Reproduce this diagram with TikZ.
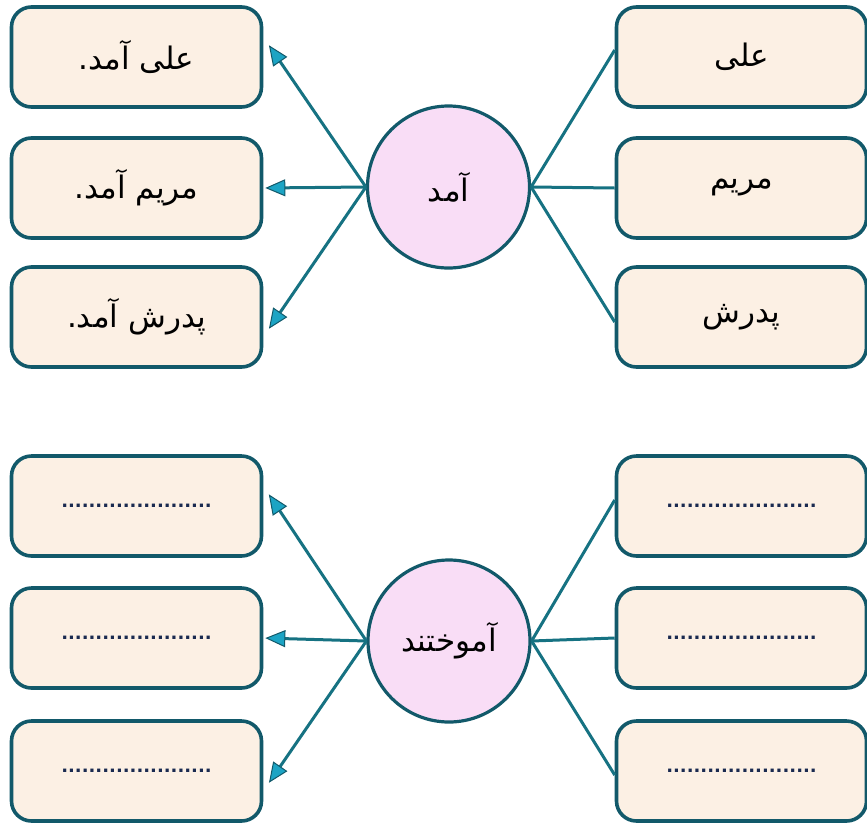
\documentclass[tikz,border=0pt]{standalone}
\usepackage{fontspec}
\newfontfamily\arabicfont[Script=Arabic]{DejaVu Sans}
\newfontfamily\dotfont{DejaVu Sans}
\TeXXeTstate=1
\usetikzlibrary{arrows.meta,calc}
\definecolor{boxborder}{HTML}{12596A}
\definecolor{boxfill}{HTML}{FCF0E4}
\definecolor{circfill}{HTML}{F9DDF6}
\definecolor{linecol}{HTML}{167282}
\definecolor{tipfill}{HTML}{1CA4C4}
\definecolor{dotcol}{HTML}{1A2A50}
\begin{document}
\begin{tikzpicture}[x=1pt,y=-1pt,
  wordbox/.style={draw=boxborder,fill=boxfill,line width=3.6pt,rounded corners=20pt,
    minimum width=250pt,minimum height=100pt,inner sep=0pt,
    font=\arabicfont\fontsize{31}{36}\selectfont},
  dotbox/.style={wordbox,font=\dotfont\bfseries\fontsize{18}{20}\selectfont,text=dotcol},
  verbcirc/.style={circle,draw=boxborder,fill=circfill,line width=3.2pt,minimum size=162pt,
    inner sep=0pt,font=\arabicfont\fontsize{31}{36}\selectfont},
  conn/.style={draw=linecol,line width=3pt},
  arr/.style={conn,-{Triangle[length=20pt,width=17pt,fill=tipfill,color=boxborder,line width=1pt]}}
]
\useasboundingbox (0,0) rectangle (867,828);
% top group
\node[wordbox] (l1) at (136.5,57) {\beginR علی آمد.\endR};
\node[wordbox] (l2) at (136.5,188) {\beginR مریم آمد.\endR};
\node[wordbox] (l3) at (136.5,317) {\beginR پدرش آمد.\endR};
\node[wordbox] (r1) at (741.5,57) {\beginR علی\endR};
\node[wordbox] (r2) at (741.5,188) {\beginR مریم\endR};
\node[wordbox] (r3) at (741.5,317) {\beginR پدرش\endR};
\node[verbcirc] (c1) at (448.5,187) {\beginR آمد\endR};
\draw[arr,shorten >=10pt] (c1.west) -- ($(l1.east)+(0,-20)$);
\draw[arr,shorten >=2pt] (c1.west) -- (l2.east);
\draw[arr,shorten >=10pt] (c1.west) -- ($(l3.east)+(0,20)$);
\draw[conn] (c1.east) -- ($(r1.west)+(0,-7)$);
\draw[conn] (c1.east) -- (r2.west);
\draw[conn] (c1.east) -- ($(r3.west)+(0,5)$);
% bottom group
\node[dotbox] (l4) at (136.5,506) {......................};
\node[dotbox] (l5) at (136.5,638) {......................};
\node[dotbox] (l6) at (136.5,771) {......................};
\node[dotbox] (r4) at (741.5,506) {......................};
\node[dotbox] (r5) at (741.5,638) {......................};
\node[dotbox] (r6) at (741.5,771) {......................};
\node[verbcirc] (c2) at (449,641) {\beginR آموختند\endR};
\draw[arr,shorten >=10pt] (c2.west) -- ($(l4.east)+(0,-20)$);
\draw[arr,shorten >=2pt] (c2.west) -- (l5.east);
\draw[arr,shorten >=10pt] (c2.west) -- ($(l6.east)+(0,20)$);
\draw[conn] (c2.east) -- ($(r4.west)+(0,-6)$);
\draw[conn] (c2.east) -- (r5.west);
\draw[conn] (c2.east) -- ($(r6.west)+(0,4)$);
\end{tikzpicture}
\end{document}
